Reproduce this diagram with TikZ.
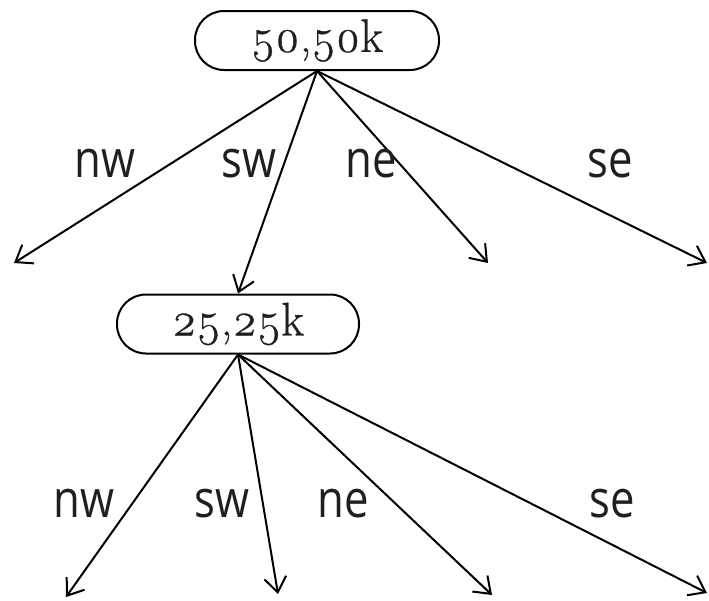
\documentclass[tikz,border=0pt]{standalone}
\usepackage{fontspec}
\setmainfont{Latin Modern Roman}[Numbers=OldStyle]
\newfontfamily\nodefont[Numbers=OldStyle,FakeBold=0.7]{Latin Modern Roman}
\newfontfamily\labfont[FakeStretch=0.84]{Open Sans}
\usetikzlibrary{arrows.meta}
\begin{document}
\begin{tikzpicture}[x=1pt,y=-1pt,
  box/.style={draw,line width=2pt,rounded corners=29pt,minimum height=59pt,inner sep=0pt,font=\nodefont\fontsize{47}{50}\selectfont,text=black!88},
  dirlab/.style={anchor=base,inner sep=0pt,font=\labfont\fontsize{52}{56}\selectfont,text=black!88},
  arr/.style={line width=2pt,-{Straight Barb[length=15pt,width=22pt]}}]
\useasboundingbox (0,0) rectangle (709,600);
\node[box,minimum width=244pt] (top) at (317,40.5) {50,50k};
\node[box,minimum width=242pt] (sub) at (238,324) {25,25k};
\coordinate (t1) at (14,263);
\coordinate (t3) at (488,263);
\coordinate (t4) at (707,263);
\coordinate (b1) at (66,597);
\coordinate (b2) at (278,594);
\coordinate (b3) at (492,595);
\coordinate (b4) at (707,593);
\draw[arr] (top.south) -- (t1);
\draw[arr] (top.south) -- (sub.north);
\draw[arr] (top.south) -- (t3);
\draw[arr] (top.south) -- (t4);
\draw[arr] (sub.south) -- (b1);
\draw[arr] (sub.south) -- (b2);
\draw[arr] (sub.south) -- (b3);
\draw[arr] (sub.south) -- (b4);
\node[dirlab] (lnw1) at (105,177) {nw};
\node[dirlab] (lsw1) at (249,177) {sw};
\node[dirlab] (lne1) at (371,177) {ne};
\node[dirlab] (lse1) at (610,177) {se};
\node[dirlab] (lnw2) at (84,517) {nw};
\node[dirlab] (lsw2) at (222,517) {sw};
\node[dirlab] (lne2) at (343,517) {ne};
\node[dirlab] (lse2) at (612,517) {se};
\end{tikzpicture}
\end{document}
